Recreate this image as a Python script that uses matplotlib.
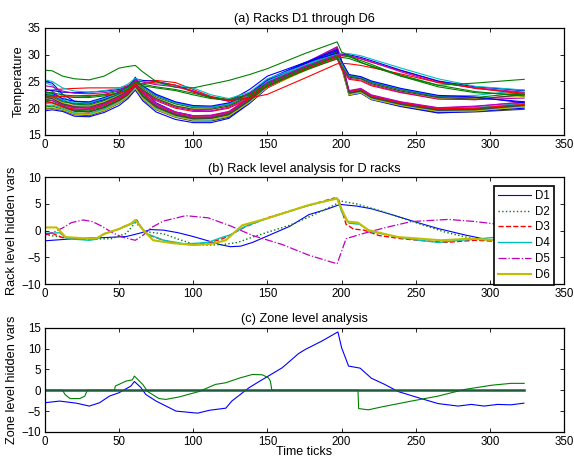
import matplotlib
matplotlib.use('Agg')
import matplotlib.pyplot as plt

plt.rcParams['font.family'] = ['Liberation Sans', 'DejaVu Sans']
plt.rcParams['font.size'] = 8

# MATLAB default colour order
mcolors = [(0, 0, 1), (0, 0.5, 0), (1, 0, 0), (0, 0.75, 0.75),
           (0.75, 0, 0.75), (0.75, 0.75, 0), (0.25, 0.25, 0.25)]

# ---------------- (a) rack temperatures ----------------
t_ticks = [0, 5, 12, 20, 30, 40, 50, 56, 61, 66, 75, 88, 100, 112, 124, 138,
           150, 175, 197, 200, 205, 213, 220, 240, 265, 290, 323]

# upper outlier
temp_outlier = [27.1, 27.0, 26.0, 25.5, 25.3, 26.0, 27.5, 27.8, 28.0, 26.8, 25.0, 23.9, 23.8, 24.5,
                25.2, 26.3, 27.4, 30.2, 32.4, 30.5, 29.8, 28.6, 27.8, 26.0, 24.3, 24.7, 25.4]

# racks that cool slowly after t=200
temp_slow = [
    [23.2, 23.4, 23.6, 23.7, 23.8, 23.8, 23.8, 24.2, 24.8, 25.1, 25.2, 24.8, 23.5, 22.2, 21.6, 22.5, 24.0, 27.2, 29.6, 29.8, 29.7, 29.2, 28.6, 27.0, 25.0, 23.7, 22.8],
    [23.5, 23.3, 23.0, 22.9, 23.0, 23.2, 23.5, 24.0, 25.5, 25.2, 25.0, 24.3, 23.2, 22.0, 21.3, 23.5, 26.0, 28.5, 30.3, 30.1, 30.0, 29.5, 28.9, 27.1, 25.1, 24.0, 23.3],
    [25.3, 25.0, 23.8, 23.2, 23.0, 23.3, 23.7, 24.5, 25.6, 25.0, 24.6, 24.3, 23.8, 22.5, 21.8, 23.0, 25.5, 28.0, 30.0, 30.3, 30.2, 29.8, 29.2, 27.5, 25.5, 24.1, 23.4],
    [22.5, 22.4, 22.2, 22.0, 22.0, 22.3, 22.8, 23.5, 24.8, 24.2, 23.8, 23.3, 22.5, 21.8, 21.5, 22.0, 24.2, 27.0, 29.3, 29.5, 29.3, 28.5, 27.9, 26.2, 24.3, 23.1, 22.3],
    [24.2, 24.0, 23.2, 22.8, 22.7, 22.9, 23.3, 24.2, 25.2, 24.9, 24.4, 24.0, 23.2, 22.0, 21.4, 22.8, 24.8, 27.8, 30.0, 30.0, 29.8, 29.3, 28.7, 26.8, 24.8, 23.8, 23.0],
    [22.0, 22.1, 22.2, 22.3, 22.4, 22.5, 22.8, 23.3, 24.5, 24.6, 24.9, 24.3, 23.0, 22.0, 21.4, 21.9, 22.6, 25.6, 28.3, 28.4, 28.3, 28.0, 27.6, 26.4, 24.8, 23.8, 22.6],
    [23.0, 22.9, 22.5, 22.3, 22.2, 22.6, 23.2, 23.9, 25.0, 24.5, 24.0, 23.5, 22.8, 22.0, 21.6, 22.6, 24.6, 27.4, 29.8, 29.9, 29.6, 28.9, 28.2, 26.0, 24.0, 22.9, 22.5],
]
temp_slow_colors = [2, 0, 3, 1, 4, 2, 1]

# racks that drop to the middle band after t=200
temp_mid = [
    [22.6, 22.4, 21.4, 20.9, 20.8, 21.6, 22.7, 23.7, 25.1, 24.0, 22.4, 21.0, 20.3, 20.2, 20.8, 22.6, 25.2, 28.3, 30.8, 28.6, 26.1, 25.8, 24.9, 23.5, 22.2, 22.0, 21.2],
    [22.3, 22.1, 21.2, 20.8, 20.6, 21.4, 22.6, 23.5, 24.8, 23.7, 22.1, 20.8, 20.1, 20.0, 20.6, 22.4, 24.8, 27.8, 29.9, 28.2, 26.0, 25.6, 24.8, 23.4, 22.1, 22.0, 22.9],
    [21.2, 21.0, 20.3, 19.8, 19.8, 20.6, 21.8, 22.8, 24.3, 23.0, 21.4, 20.0, 19.4, 19.4, 20.0, 21.8, 24.2, 27.2, 29.2, 27.3, 25.4, 25.1, 24.2, 22.9, 21.7, 21.6, 22.6],
    [22.8, 22.6, 21.5, 21.0, 21.0, 21.8, 22.8, 23.8, 25.0, 24.0, 22.5, 21.0, 20.3, 20.2, 20.8, 22.5, 25.0, 28.0, 30.2, 28.5, 26.2, 25.8, 25.0, 23.6, 22.3, 22.4, 23.4],
    [21.7, 21.5, 20.6, 20.1, 20.0, 20.8, 22.0, 23.0, 24.4, 23.2, 21.6, 20.2, 19.6, 19.5, 20.2, 22.0, 24.4, 27.4, 29.5, 27.6, 25.6, 25.3, 24.4, 23.0, 21.8, 21.6, 21.9],
    [22.0, 21.9, 21.0, 20.5, 20.4, 21.2, 22.4, 23.4, 24.7, 23.5, 21.9, 20.5, 19.9, 19.8, 20.4, 22.2, 24.6, 27.5, 29.7, 27.9, 25.8, 25.4, 24.6, 23.2, 21.9, 21.8, 22.2],
    [22.0, 21.8, 20.8, 20.3, 20.2, 21.0, 22.3, 23.3, 24.6, 23.4, 21.8, 20.4, 19.8, 19.8, 20.4, 22.2, 24.6, 27.6, 29.6, 27.8, 25.8, 25.5, 24.6, 23.2, 22.0, 21.7, 22.5],
    [23.0, 22.8, 21.8, 21.3, 21.2, 22.0, 23.0, 24.0, 25.3, 24.2, 22.6, 21.2, 20.5, 20.4, 21.0, 22.8, 25.4, 28.5, 31.0, 28.8, 26.3, 25.9, 25.1, 23.7, 22.4, 22.1, 21.0],
]

# racks that drop to the lowest band after t=200
temp_low = [
    [25.0, 24.7, 22.6, 21.3, 21.0, 21.6, 22.6, 23.6, 25.8, 23.6, 21.0, 19.3, 18.6, 18.6, 19.2, 21.6, 24.4, 27.9, 31.2, 28.6, 23.0, 23.4, 22.2, 21.0, 19.9, 19.8, 21.0],
    [20.2, 20.4, 19.8, 19.0, 18.9, 19.8, 21.2, 22.4, 24.0, 22.0, 20.0, 18.6, 17.9, 18.0, 18.7, 21.2, 24.0, 27.4, 30.4, 27.8, 22.7, 23.1, 21.9, 20.7, 19.6, 19.5, 20.3],
    [20.8, 21.0, 20.2, 19.4, 19.3, 20.2, 21.5, 22.6, 24.2, 22.3, 20.4, 18.9, 18.2, 18.3, 19.0, 21.4, 24.2, 27.5, 30.6, 28.0, 22.9, 23.3, 22.1, 20.9, 19.8, 19.9, 20.9],
    [24.8, 24.3, 22.2, 20.8, 20.5, 21.2, 22.3, 23.3, 25.2, 23.0, 20.8, 19.2, 18.5, 18.5, 19.2, 21.7, 24.5, 28.0, 30.9, 28.4, 23.1, 23.5, 22.3, 21.1, 20.0, 20.1, 20.9],
    [22.0, 21.8, 20.8, 19.9, 19.7, 20.5, 21.8, 22.9, 24.6, 22.6, 20.5, 19.0, 18.3, 18.4, 19.1, 21.8, 24.7, 28.2, 31.4, 28.7, 23.2, 23.6, 22.4, 21.1, 20.0, 20.3, 21.2],
    [21.0, 20.9, 20.0, 19.2, 19.0, 19.9, 21.2, 22.3, 23.9, 22.0, 20.0, 18.6, 17.9, 17.9, 18.5, 21.0, 23.8, 27.0, 29.8, 27.5, 22.6, 23.0, 21.8, 20.5, 19.4, 19.6, 20.2],
    [19.8, 20.0, 19.6, 18.8, 18.6, 19.5, 20.9, 22.1, 23.6, 21.7, 19.7, 18.3, 17.6, 17.6, 18.3, 21.0, 23.9, 27.2, 30.0, 27.6, 22.5, 22.9, 21.7, 20.4, 19.2, 19.3, 19.8],
    [19.5, 19.7, 19.4, 18.5, 18.4, 19.2, 20.5, 21.8, 23.4, 21.4, 19.3, 17.9, 17.3, 17.3, 18.1, 20.9, 23.8, 27.3, 30.6, 28.1, 22.4, 22.8, 21.6, 20.3, 19.1, 19.4, 20.0],
    [21.5, 21.4, 20.5, 19.6, 19.5, 20.3, 21.6, 22.7, 24.4, 22.4, 20.3, 18.8, 18.1, 18.2, 18.9, 21.5, 24.3, 27.7, 30.7, 28.3, 22.9, 23.3, 22.0, 20.8, 19.7, 19.8, 20.6],
    [22.3, 22.1, 21.0, 20.2, 20.0, 20.8, 22.0, 23.1, 24.8, 22.8, 20.7, 19.2, 18.5, 18.6, 19.3, 21.9, 24.8, 28.3, 31.1, 28.6, 23.1, 23.5, 22.3, 21.0, 19.9, 20.0, 20.7],
    [20.5, 20.6, 20.0, 19.1, 19.0, 19.9, 21.1, 22.3, 23.8, 21.9, 19.9, 18.5, 17.8, 17.8, 18.6, 21.3, 24.1, 27.6, 30.3, 27.9, 22.6, 23.0, 21.8, 20.6, 19.5, 19.5, 20.4],
    [23.5, 23.2, 21.6, 20.6, 20.4, 21.0, 22.2, 23.3, 25.0, 22.9, 20.8, 19.3, 18.6, 18.7, 19.4, 22.0, 24.9, 28.4, 31.5, 28.9, 23.3, 23.7, 22.5, 21.2, 20.1, 20.4, 21.1],
    [20.0, 20.1, 19.7, 18.9, 18.8, 19.6, 21.0, 22.2, 23.7, 21.8, 19.8, 18.4, 17.8, 17.9, 18.6, 21.1, 23.9, 27.1, 29.9, 27.5, 22.5, 22.9, 21.7, 20.5, 19.4, 19.5, 20.3],
    [21.3, 21.1, 20.3, 19.5, 19.3, 20.1, 21.4, 22.5, 24.1, 22.2, 20.2, 18.7, 18.0, 18.1, 18.8, 21.4, 24.2, 27.5, 30.4, 27.9, 22.8, 23.2, 22.0, 20.7, 19.6, 19.7, 20.5],
]

# ---------------- (b) rack level hidden vars ----------------
d1_t = [0, 20, 40, 55, 65, 71, 80, 90, 100, 110, 118, 125, 132, 140, 150, 165, 178, 190, 199, 210, 220, 235, 250, 265, 283, 295, 305, 315, 323]
d1_v = [-1.9, -1.5, -1.3, -1.1, -0.4, 0.2, 0.1, -0.4, -1.1, -1.9, -2.6, -3.0, -2.9, -2.2, -1.0, 0.8, 3.0, 4.0, 4.9, 4.6, 4.1, 2.9, 1.6, 0.4, -0.8, -1.5, -2.0, -2.0, -1.8]

d2_t = [0, 15, 30, 45, 55, 61, 68, 80, 90, 100, 110, 120, 130, 140, 150, 165, 180, 195, 200, 210, 225, 250, 270, 290, 305, 323]
d2_v = [-0.8, -1.3, -1.6, -1.5, -0.5, 1.5, -0.2, -0.6, -1.6, -2.5, -2.7, -2.6, -2.2, -1.2, -0.3, 1.0, 2.8, 4.8, 5.5, 5.0, 3.8, 1.5, -0.3, -1.6, -2.0, -1.8]

d3_t = [0, 5, 12, 20, 30, 35, 40, 50, 55, 60, 62, 65, 70, 80, 90, 100, 110, 120, 125, 135, 150, 175, 195, 198, 203, 208, 215, 225, 240, 260, 270, 290, 305, 323]
d3_v = [-0.8, -0.5, -1.3, -1.6, -1.6, -1.5, -0.6, 0.3, 1.0, 1.5, 2.0, 0.6, -0.8, -1.8, -2.4, -2.6, -2.3, -1.5, -0.8, 0.7, 2.4, 4.5, 6.1, 5.8, 1.2, 0.3, 0.1, -0.9, -1.5, -2.0, -2.2, -1.8, -2.0, -1.6]

d4_t = [0, 10, 15, 30, 35, 40, 50, 58, 62, 68, 80, 95, 110, 120, 125, 135, 150, 175, 197, 200, 205, 212, 220, 240, 250, 265, 280, 290, 305, 323]
d4_v = [-0.5, -0.4, -1.5, -1.8, -1.6, -0.6, 0.3, 1.2, 1.8, -0.5, -1.8, -2.5, -2.2, -1.2, -0.8, 0.8, 2.3, 4.5, 6.1, 3.5, 1.4, 1.2, -0.2, -1.3, -1.7, -2.2, -1.8, -1.6, -1.2, -1.2]

d5_t = [0, 5, 12, 18, 26, 32, 38, 45, 52, 61, 66, 72, 80, 95, 110, 125, 140, 160, 178, 197, 203, 215, 230, 247, 272, 290, 305, 323]
d5_v = [-0.7, -0.4, 0.5, 1.5, 2.0, 1.7, 0.9, -0.3, -1.2, -1.8, -0.9, 0.6, 1.8, 2.8, 2.4, 0.9, -0.9, -2.6, -4.6, -6.2, -1.5, -0.5, 0.6, 1.7, 2.1, 1.7, 1.2, 1.0]

d6_t = [0, 8, 14, 30, 35, 40, 50, 58, 61, 66, 73, 85, 100, 112, 122, 133, 150, 178, 197, 200, 204, 211, 218, 238, 267, 287, 305, 323]
d6_v = [0.6, 0.6, -1.2, -1.5, -1.4, -0.6, 0.3, 1.3, 2.0, 0.2, -1.8, -2.3, -2.7, -2.5, -1.8, 1.0, 2.3, 4.8, 6.0, 4.0, 1.7, 1.5, 0.1, -1.2, -1.8, -1.5, -1.8, -1.6]

rack_labels = ['D1', 'D2', 'D3', 'D4', 'D5', 'D6']

# ---------------- (c) zone level hidden vars ----------------
z1_t = [0, 10, 21.3, 30, 36.9, 43.6, 50, 58, 60.4, 64.9, 68, 75, 88.4, 103, 111, 122, 126, 137.6, 144, 160, 171,
        175.6, 186.7, 197.5, 200, 204.7, 212.5, 220, 229, 238, 251.7, 265, 278.5, 287.4, 296, 305, 314, 322.8]
z1_v = [-3.0, -2.6, -3.1, -3.8, -3.0, -1.4, -0.6, 1.0, 2.1, 0.6, -1.0, -2.6, -5.0, -5.5, -4.8, -4.3, -2.6, 0.6, 2.0, 5.4, 8.8,
        9.8, 11.8, 14.0, 10.2, 5.8, 5.3, 2.9, 1.4, -0.3, -1.8, -3.2, -3.8, -3.4, -3.8, -3.4, -3.5, -3.1]

z2_t = [0, 12, 13.6, 17, 23.6, 27, 28.6, 47, 47.5, 54.8, 59, 60.4, 66, 69.3, 77, 81.6, 90.6, 104, 115, 122, 131, 140,
        146.6, 150.6, 152, 153, 211, 211.5, 218, 227, 247, 265, 283, 301, 314, 323]
z2_v = [0, 0, -1.0, -2.0, -2.0, -1.4, 0, 0, 1.0, 2.2, 2.5, 3.4, 1.4, -0.3, -2.0, -2.2, -1.6, -0.3, 1.4, 1.8, 2.9, 3.8,
        3.7, 3.0, 2.2, 0, 0, -4.4, -4.7, -4.0, -2.6, -1.4, 0.2, 1.2, 1.65, 1.65]

z0_t = [0, 323]
z0_v = [0, 0]


def matlab_axes(ax, ylim, yticks):
    ax.set_xlim(0, 350)
    ax.set_ylim(*ylim)
    ax.set_xticks(range(0, 351, 50))
    ax.set_yticks(yticks)
    ax.tick_params(direction='in', top=True, right=True, length=3, width=0.6, labelsize=8.3, pad=3)
    for s in ax.spines.values():
        s.set_linewidth(0.9)


fig = plt.figure(figsize=(5.74, 4.59), dpi=100)
ax1 = fig.add_axes([0.078, 0.706, 0.905, 0.233])
ax2 = fig.add_axes([0.078, 0.381, 0.905, 0.233])
ax3 = fig.add_axes([0.078, 0.059, 0.905, 0.227])

# (a)
k = 0
for v in temp_low:
    ax1.plot(t_ticks, v, color=mcolors[k % 7], lw=0.8)
    k += 1
for v in temp_mid:
    ax1.plot(t_ticks, v, color=mcolors[k % 7], lw=0.8)
    k += 1
for v, c in zip(temp_slow, temp_slow_colors):
    ax1.plot(t_ticks, v, color=mcolors[c], lw=0.8)
ax1.plot(t_ticks, temp_outlier, color=mcolors[1], lw=0.8)
matlab_axes(ax1, (15, 35), range(15, 36, 5))
ax1.set_title('(a) Racks D1 through D6', fontsize=9.2, pad=4)
ax1.set_ylabel('Temperature', fontsize=9.2, labelpad=2)

# (b)
ax2.plot(d1_t, d1_v, color=mcolors[0], ls='-', lw=0.8, label=rack_labels[0])
ax2.plot(d2_t, d2_v, color=mcolors[1], ls=':', lw=1.0, label=rack_labels[1])
ax2.plot(d3_t, d3_v, color=mcolors[2], ls='--', lw=1.0, label=rack_labels[2])
ax2.plot(d4_t, d4_v, color=mcolors[3], ls='-', lw=1.0, label=rack_labels[3])
ax2.plot(d5_t, d5_v, color=mcolors[4], ls='-.', lw=0.9, label=rack_labels[4])
ax2.plot(d6_t, d6_v, color=mcolors[5], ls='-', lw=1.5, label=rack_labels[5])
matlab_axes(ax2, (-10, 10), range(-10, 11, 5))
ax2.set_title('(b) Rack level analysis for D racks', fontsize=9.2, pad=4)
ax2.set_ylabel('Rack level hidden vars', fontsize=9.2, labelpad=2)
leg = ax2.legend(loc='upper right', bbox_to_anchor=(0.98, 0.92), fontsize=8.3, fancybox=False,
                 edgecolor='black', framealpha=1, labelspacing=0.33, handlelength=2.9,
                 handletextpad=0.3, borderpad=0.35, borderaxespad=0)
leg.get_frame().set_linewidth(1.2)

# (c)
ax3.plot(z1_t, z1_v, color=mcolors[0], lw=0.8)
ax3.plot(z2_t, z2_v, color=mcolors[1], lw=0.8)
ax3.plot(z0_t, z0_v, color='#1d5c3c', lw=1.8)
matlab_axes(ax3, (-10, 15), range(-10, 16, 5))
ax3.set_title('(c) Zone level analysis', fontsize=9.2, pad=4)
ax3.set_ylabel('Zone level hidden vars', fontsize=9.2, labelpad=2)
ax3.set_xlabel('Time ticks', fontsize=9, labelpad=-1.5)

fig.savefig('out.png', dpi=100)
